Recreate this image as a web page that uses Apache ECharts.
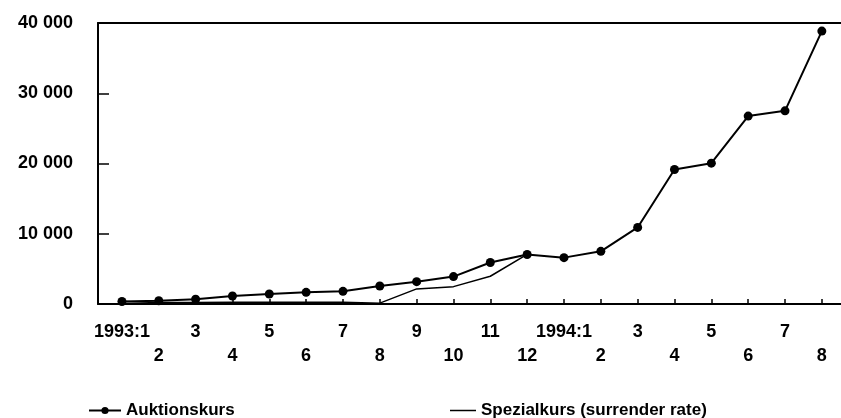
<!DOCTYPE html>
<html>
<head>
<meta charset="utf-8">
<script src="https://cdn.jsdelivr.net/npm/echarts@6/dist/echarts.min.js"></script>
<style>
  html, body { margin: 0; padding: 0; background: #fff; }
  #chart { width: 841px; height: 418px; }
</style>
</head>
<body>
<div id="chart"></div>
<script>
// Monate 1993:1 bis 1994:8
const monthLabels = ['1993:1', '2', '3', '4', '5', '6', '7', '8', '9', '10', '11', '12',
  '1994:1', '2', '3', '4', '5', '6', '7', '8'];
const auktionskurs = [350, 470, 670, 1140, 1420, 1660, 1800, 2560, 3180, 3900, 5900, 7050,
  6600, 7500, 10900, 19150, 20050, 26750, 27500, 38850];
const spezialkurs = [350, 200, 200, 250, 250, 250, 250, 120, 2150, 2470, 3950, 7050];
const yTicks = [0, 10000, 20000, 30000, 40000];

const fontFam = '"Liberation Sans", Arial, sans-serif';

function fmtThousands(v) {
  return String(v).replace(/\B(?=(\d{3})+(?!\d))/g, ' ');
}

const chart = echarts.init(document.getElementById('chart'));

const option = {
  animation: false,
  backgroundColor: '#fff',
  grid: { left: 98, right: 0, top: 23, bottom: 114, containLabel: false },
  legend: [
    {
      data: ['Auktionskurs'],
      left: 83, top: 397,
      itemWidth: 32, itemHeight: 9,
      textStyle: { fontFamily: fontFam, fontSize: 17, fontWeight: 'bold', color: '#000' }
    },
    {
      data: [{ name: 'Spezialkurs (surrender rate)', icon: 'rect' }],
      left: 445, top: 397,
      itemWidth: 26, itemHeight: 1.5,
      textStyle: { fontFamily: fontFam, fontSize: 17, fontWeight: 'bold', color: '#000' }
    }
  ],
  xAxis: [
    {
      type: 'value',
      min: -0.65,
      max: 19.52,
      axisLine: { show: true, onZero: false, lineStyle: { color: '#000', width: 2 } },
      axisTick: {
        show: true, inside: true, length: 5,
        customValues: monthLabels.map((_, i) => i),
        lineStyle: { color: '#000', width: 1.5 }
      },
      axisLabel: {
        customValues: monthLabels.map((_, i) => i),
        margin: 16,
        lineHeight: 24,
        verticalAlign: 'top',
        fontFamily: fontFam, fontSize: 18, fontWeight: 'bold', color: '#000',
        formatter: function (v) {
          const i = Math.round(v);
          return i % 2 === 1 ? '\n' + monthLabels[i] : monthLabels[i];
        }
      },
      splitLine: { show: false }
    },
    {
      type: 'value',
      position: 'top',
      min: -0.65,
      max: 19.52,
      axisLine: { show: true, onZero: false, lineStyle: { color: '#000', width: 2 } },
      axisTick: { show: false },
      axisLabel: { show: false },
      splitLine: { show: false }
    }
  ],
  yAxis: {
    type: 'value',
    min: 0,
    max: 40000,
    interval: 10000,
    axisLine: { show: true, onZero: false, lineStyle: { color: '#000', width: 2 } },
    axisTick: { show: true, inside: true, length: 11, lineStyle: { color: '#000', width: 1.5 } },
    axisLabel: {
      margin: 25,
      fontFamily: fontFam, fontSize: 18, fontWeight: 'bold', color: '#000',
      formatter: v => yTicks.includes(v) ? fmtThousands(v) : ''
    },
    splitLine: { show: false }
  },
  series: [
    {
      name: 'Spezialkurs (surrender rate)',
      type: 'line',
      symbol: 'none',
      lineStyle: { color: '#000', width: 1.5 },
      itemStyle: { color: '#000' },
      data: spezialkurs.map((v, i) => [i, v]),
      z: 2
    },
    {
      name: 'Auktionskurs',
      type: 'line',
      symbol: 'circle',
      symbolSize: 9,
      lineStyle: { color: '#000', width: 2 },
      itemStyle: { color: '#000' },
      data: auktionskurs.map((v, i) => [i, v]),
      z: 3
    }
  ]
};

chart.setOption(option);
</script>
</body>
</html>
